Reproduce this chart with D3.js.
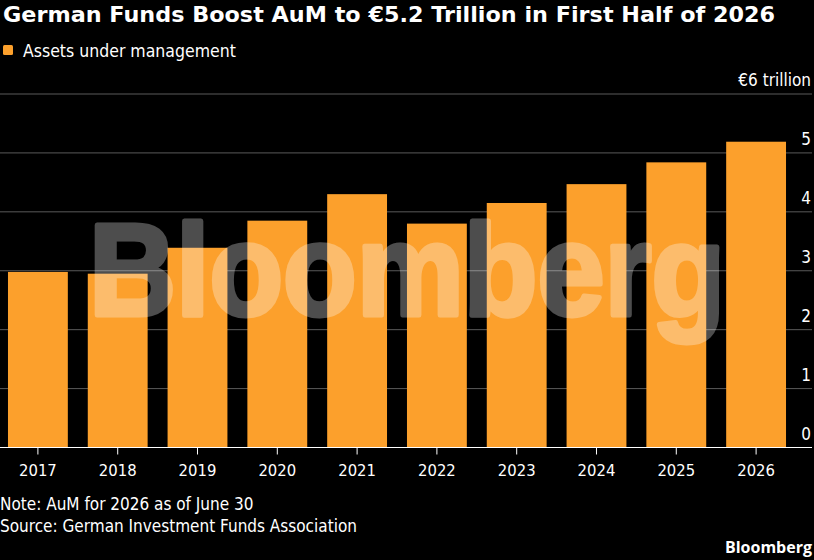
<!DOCTYPE html>
<html>
<head>
<meta charset="utf-8">
<script src="https://cdn.jsdelivr.net/npm/d3@7"></script>
<style>
  html, body { margin: 0; padding: 0; background: #000; }
  svg { display: block; }
</style>
</head>
<body>
<svg id="chart" width="814" height="560"></svg>
<script>
const years = ["2017","2018","2019","2020","2021","2022","2023","2024","2025","2026"];
const aum = [2.98, 2.95, 3.39, 3.85, 4.30, 3.80, 4.15, 4.47, 4.84, 5.19];
const yTicks = [0, 1, 2, 3, 4, 5, 6];
const yTickLabels = ["0", "1", "2", "3", "4", "5", "€6 trillion"];

const titleText = "German Funds Boost AuM to €5.2 Trillion in First Half of 2026";
const legendText = "Assets under management";
const noteText = "Note: AuM for 2026 as of June 30";
const sourceText = "Source: German Investment Funds Association";

const W = 814, H = 560;
const plot = { left: 0, right: 794, top: 94, bottom: 447.5, gridRight: 812 };
const bodyFont = "'DejaVu Sans Condensed', 'DejaVu Sans', sans-serif";
const barColor = "#fca02c";

const svg = d3.select("#chart");
svg.append("rect").attr("width", W).attr("height", H).attr("fill", "#000");

const x = d3.scaleBand().domain(years).range([plot.left, plot.right])
  .paddingInner(0.25).paddingOuter(0.1);
const y = d3.scaleLinear().domain([0, 6]).range([plot.bottom, plot.top]);

// gridlines
svg.append("g").selectAll("line").data(yTicks.filter(d => d > 0)).join("line")
  .attr("x1", 0).attr("x2", plot.gridRight)
  .attr("y1", d => y(d)).attr("y2", d => y(d))
  .attr("stroke", "#5a5a5a").attr("stroke-width", 1);

// y labels
svg.append("g").selectAll("text").data(yTicks).join("text")
  .attr("x", 811).attr("y", d => y(d) - 8)
  .attr("text-anchor", "end")
  .attr("fill", "#fff").attr("font-family", bodyFont).attr("font-size", 17)
  .text((d, i) => yTickLabels[i]);

// bars
svg.append("g").selectAll("rect").data(aum).join("rect")
  .attr("x", (d, i) => x(years[i]))
  .attr("width", x.bandwidth())
  .attr("y", d => y(d))
  .attr("height", d => y(0) - y(d))
  .attr("fill", barColor);

// x axis
const xAxis = d3.axisBottom(x).tickSize(7).tickSizeOuter(0).tickPadding(6);
const gx = svg.append("g").attr("transform", `translate(0,${y(0)})`).call(xAxis);
gx.select(".domain").remove();
gx.selectAll(".tick line").attr("stroke", "#fff").attr("stroke-width", 1);
gx.selectAll(".tick text").attr("fill", "#fff").attr("font-family", bodyFont)
  .attr("font-size", 16.5).attr("dy", "0.95em");
svg.append("line").attr("x1", 0).attr("x2", plot.gridRight)
  .attr("y1", y(0)).attr("y2", y(0)).attr("stroke", "#fff").attr("stroke-width", 1.2);

// watermark
svg.append("g").attr("opacity", 0.3)
  .append("text").attr("x", 89).attr("y", 315)
  .attr("font-family", "'Liberation Sans', Arial, sans-serif")
  .style("font-weight", "700")
  .attr("font-size", 130).attr("fill", "#fff")
  .attr("stroke", "#fff").attr("stroke-width", 5).attr("stroke-linejoin", "round")
  .attr("textLength", 636).attr("lengthAdjust", "spacingAndGlyphs")
  .text("Bloomberg");

// title
svg.append("text").attr("x", 3).attr("y", 22)
  .attr("font-family", "'DejaVu Sans', sans-serif").attr("font-weight", "bold")
  .attr("font-size", 21.5).attr("fill", "#fff")
  .attr("textLength", 772).attr("lengthAdjust", "spacingAndGlyphs")
  .text(titleText);

// legend
svg.append("rect").attr("x", 3).attr("y", 45).attr("width", 10).attr("height", 10)
  .attr("rx", 1.5).attr("fill", barColor);
svg.append("text").attr("x", 23).attr("y", 57)
  .attr("font-family", bodyFont).attr("font-size", 17.5).attr("fill", "#fff")
  .text(legendText);

// footer
svg.append("text").attr("x", 0).attr("y", 510)
  .attr("font-family", bodyFont).attr("font-size", 17).attr("fill", "#fff")
  .text(noteText);
svg.append("text").attr("x", 0).attr("y", 532)
  .attr("font-family", bodyFont).attr("font-size", 17).attr("fill", "#fff")
  .text(sourceText);
svg.append("text").attr("x", 812).attr("y", 553).attr("text-anchor", "end")
  .attr("font-family", "'Open Sans', 'Liberation Sans', sans-serif").attr("font-weight", "bold")
  .attr("font-size", 16).attr("fill", "#fff")
  .text("Bloomberg");
</script>
</body>
</html>
